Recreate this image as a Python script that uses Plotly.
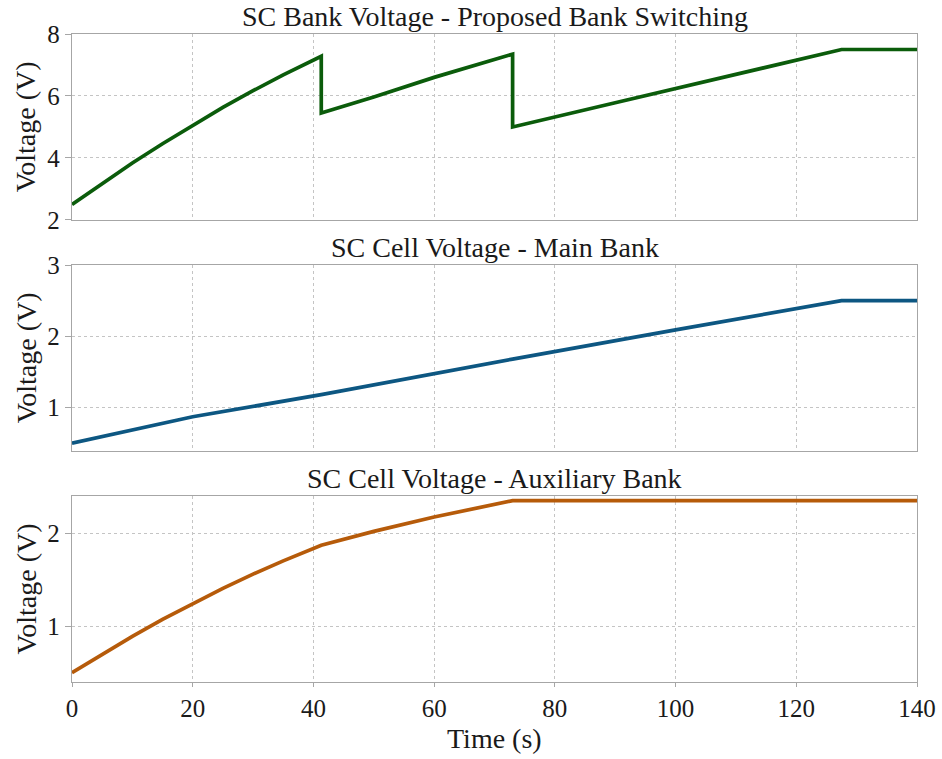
import plotly.graph_objects as go

# Time axis and voltage traces (s, V)
t_bank = [0, 5, 10, 15, 20, 25, 30, 35, 41.3, 41.3, 50, 60, 73, 73, 90, 110, 127.5, 140]
v_bank = [2.5, 3.18, 3.84, 4.46, 5.06, 5.63, 6.17, 6.68, 7.28, 5.45, 5.97, 6.6, 7.35,
          5.0, 5.78, 6.7, 7.5, 7.5]

t_main = [0, 20, 41.3, 73, 100, 127.5, 140]
v_main = [0.5, 0.87, 1.18, 1.68, 2.09, 2.5, 2.5]

t_aux = [0, 5, 10, 15, 20, 25, 30, 35, 41.3, 50, 60, 73, 140]
v_aux = [0.5, 0.70, 0.89, 1.073, 1.245, 1.407, 1.56, 1.703, 1.87, 2.02, 2.175, 2.35, 2.35]

titles = ["SC Bank Voltage - Proposed Bank Switching",
          "SC Cell Voltage - Main Bank",
          "SC Cell Voltage - Auxiliary Bank"]
x_ticks = [0, 20, 40, 60, 80, 100, 120, 140]

FONT = "Liberation Serif, Times New Roman, serif"
TXT = "#1a1a1a"
AXC = "#a6a6a6"
GRID = "#c4c4c4"
LW = 3.7

fig = go.Figure()
fig.add_trace(go.Scatter(x=t_bank, y=v_bank, mode="lines", xaxis="x", yaxis="y",
                         line=dict(color="#0b5c0b", width=LW), showlegend=False))
fig.add_trace(go.Scatter(x=t_main, y=v_main, mode="lines", xaxis="x2", yaxis="y2",
                         line=dict(color="#0d5782", width=LW), showlegend=False))
fig.add_trace(go.Scatter(x=t_aux, y=v_aux, mode="lines", xaxis="x3", yaxis="y3",
                         line=dict(color="#b65b0a", width=LW), showlegend=False))

domains = [[0.713, 1.0], [0.3565, 0.6435], [0.0, 0.287]]
yranges = [[2, 8], [0.39, 3], [0.4, 2.4]]
ytickvals = [[2, 4, 6, 8], [1, 2, 3], [1, 2]]

common_axis = dict(showline=True, linecolor=AXC, linewidth=1.3, mirror=True,
                   showgrid=True, gridcolor=GRID, griddash="dot", gridwidth=1,
                   zeroline=False, automargin=False,
                   tickfont=dict(family=FONT, size=25, color=TXT))

layout = dict(
    width=942, height=759,
    margin=dict(l=72, r=25, t=34, b=77, autoexpand=False),
    paper_bgcolor="white", plot_bgcolor="white",
    font=dict(family=FONT, color=TXT),
)

LABEL_SIZE = 28
annotations = []
for i in range(3):
    sx = "" if i == 0 else str(i + 1)
    last = i == 2
    layout["xaxis" + sx] = dict(
        common_axis, domain=[0, 1], range=[0, 140], tickvals=x_ticks,
        anchor="y" + sx, showticklabels=last,
        ticks="outside" if last else "", ticklen=4, tickcolor=AXC,
        **({} if i == 0 else {"matches": "x"}),
    )
    layout["yaxis" + sx] = dict(
        common_axis, domain=domains[i], range=yranges[i], tickvals=ytickvals[i],
        anchor="x" + sx, ticks="outside", ticklen=6, tickcolor=AXC,
    )
    annotations.append(dict(
        text=titles[i], xref="paper", yref="paper", x=0.5, y=domains[i][1],
        xanchor="center", yanchor="bottom", yshift=0, showarrow=False,
        font=dict(family=FONT, size=LABEL_SIZE, color=TXT),
    ))
    annotations.append(dict(
        text="Voltage (V)", xref="paper", yref="paper", x=-0.054,
        y=(domains[i][0] + domains[i][1]) / 2, xanchor="center", yanchor="middle",
        textangle=-90, showarrow=False,
        font=dict(family=FONT, size=LABEL_SIZE, color=TXT),
    ))

annotations.append(dict(
    text="Time (s)", xref="paper", yref="paper", x=0.5, y=0, yshift=-56,
    xanchor="center", yanchor="middle", showarrow=False,
    font=dict(family=FONT, size=LABEL_SIZE, color=TXT),
))
layout["annotations"] = annotations

fig.update_layout(**layout)
fig.write_html("out.html")
